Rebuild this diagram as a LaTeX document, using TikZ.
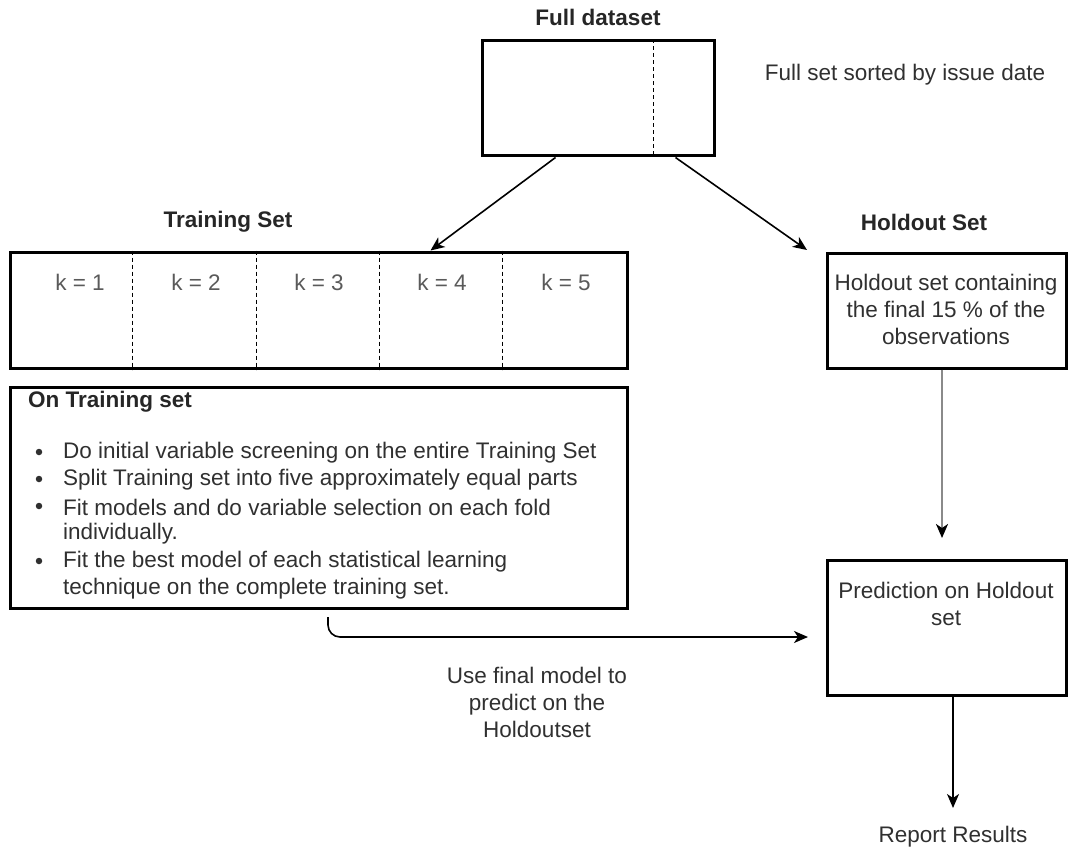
\documentclass[tikz,border=0pt]{standalone}
\usepackage{fontspec}
\setmainfont{Liberation Sans}
\usetikzlibrary{arrows.meta}
\definecolor{txtgray}{HTML}{303030}
\definecolor{kgray}{HTML}{5A5A5A}
\definecolor{linegray}{HTML}{8A8A8A}
\begin{document}
\begin{tikzpicture}[x=1pt,y=-1pt,
  font=\fontsize{22.5}{27}\selectfont,
  box/.style={draw=black, line width=3pt, rectangle, inner sep=0pt},
  divider/.style={line width=1.4pt, dash pattern=on 4pt off 3pt},
  arr/.style={line width=1.6pt, -{Stealth[length=14pt,width=12pt,inset=4pt]}},
  txt/.style={text=txtgray, inner sep=0pt},
  ktxt/.style={text=kgray, inner sep=0pt},
  head/.style={text=black!85, inner sep=0pt, font=\fontsize{22.5}{27}\selectfont\bfseries},
  ctxt/.style={text=txtgray, inner sep=0pt, align=center},
  bul/.style={circle, fill=txtgray, inner sep=0pt, minimum size=6.5pt}
]
\useasboundingbox (0,0) rectangle (1075,850);

% Full dataset
\node[head] (fulltitle) at (598,17) {Full dataset};
\node[box, minimum width=232pt, minimum height=115pt] (full) at (598,98.5) {};
\draw[divider] ([xshift=173pt]full.north west) -- ([xshift=173pt]full.south west);
\node[txt] (fullnote) at (905,75) {Full set sorted by issue date};

% Training set
\node[head] (traintitle) at (228,222) {Training Set};
\node[box, minimum width=617pt, minimum height=116pt] (train) at (318.5,310) {};
\foreach \dx in {124,248,371,494}
  \draw[divider] ([xshift=\dx pt]train.north west) -- ([xshift=\dx pt]train.south west);
\node[ktxt] (k1) at (80,282) {k = 1};
\node[ktxt] (k2) at (196,282) {k = 2};
\node[ktxt] (k3) at (319,282) {k = 3};
\node[ktxt] (k4) at (442,282) {k = 4};
\node[ktxt] (k5) at (566,282) {k = 5};

% Holdout set
\node[head] (holdtitle) at (924,222) {Holdout Set};
\node[box, minimum width=239pt, minimum height=115pt] (hold) at (946.5,310.5) {};
\node[ctxt] (holdtext) at (946,309) {Holdout set containing\\the final 15 \% of the\\observations};

% On training set
\node[box, minimum width=617pt, minimum height=221pt] (ontrain) at (318.5,497.5) {};
\node[head, anchor=west] (ontraintitle) at (28,402) {On Training set};
\node[bul] (b1) at (39,452) {};
\node[bul] (b2) at (39,479) {};
\node[bul] (b3) at (39,506) {};
\node[bul] (b4) at (39,561) {};
\node[txt, anchor=west] (l1) at (63,453) {Do initial variable screening on the entire Training Set};
\node[txt, anchor=west] (l2) at (63,480) {Split Training set into five approximately equal parts};
\node[txt, anchor=west] (l3) at (63,507) {Fit models and do variable selection on each fold};
\node[txt, anchor=west] (l4) at (63,534) {individually.};
\node[txt, anchor=west] (l5) at (63,562) {Fit the best model of each statistical learning};
\node[txt, anchor=west] (l6) at (63,589) {technique on the complete training set.};

% Prediction
\node[box, minimum width=239pt, minimum height=135pt] (pred) at (946.5,627.5) {};
\node[ctxt] (predtext) at (946,603.5) {Prediction on Holdout\\set};

\node[ctxt] (usefinal) at (537,702) {Use final model to\\predict on the\\Holdoutset};
\node[txt] (report) at (953,837) {Report Results};

% connectors
\coordinate (holdtip) at (807,250);
\coordinate (curvestart) at (328,617);
\coordinate (curveend) at (808,637);
\coordinate (graytip) at (942,538);
\coordinate (reporttip) at (953,808);

\draw[arr] ([xshift=75pt]full.south west) -- ([xshift=422pt]train.north west);
\draw[arr] ([xshift=195pt]full.south west) -- (holdtip);
\draw[arr, rounded corners=12pt] (curvestart) |- (curveend);
\draw[line width=2pt, draw=linegray, -{Stealth[length=14pt,width=12pt,inset=4pt,color=black]}] ([xshift=-4.5pt]hold.south) -- (graytip);
\draw[arr] ([xshift=6.5pt]pred.south) -- (reporttip);
\end{tikzpicture}
\end{document}
